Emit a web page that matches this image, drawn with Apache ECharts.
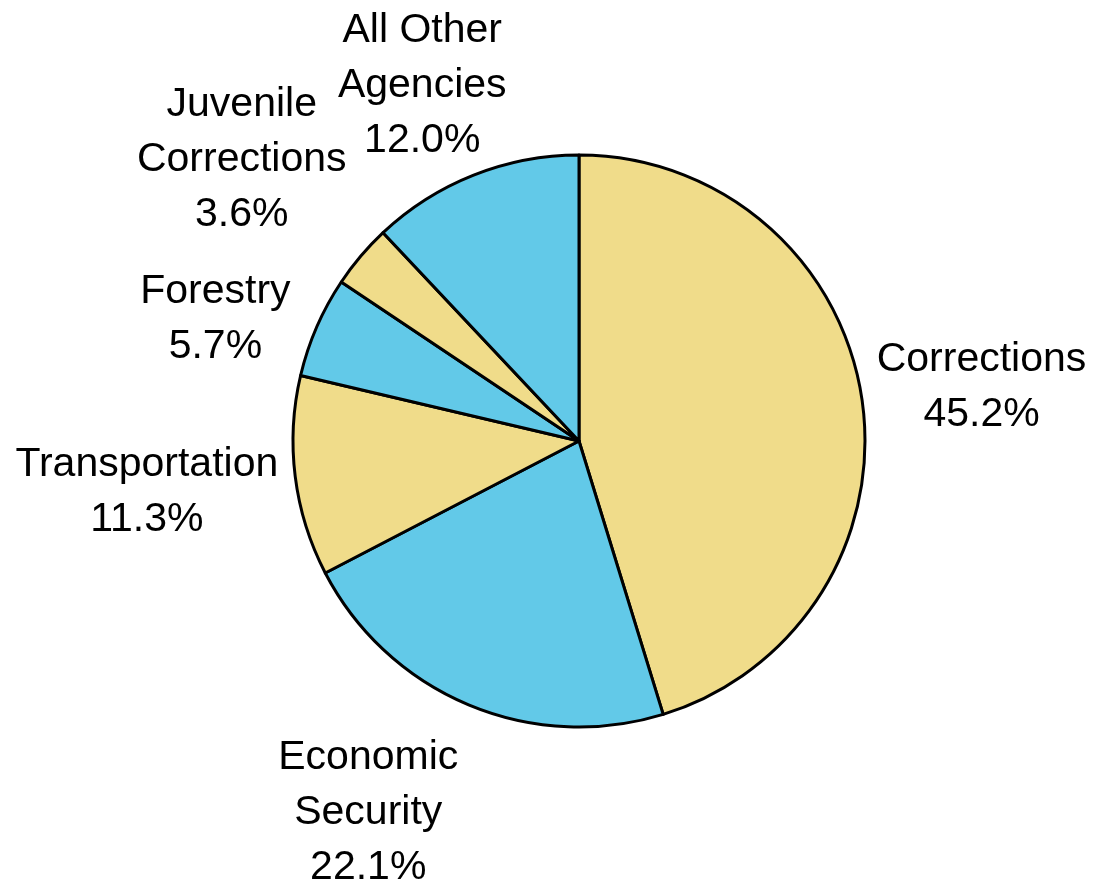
<!DOCTYPE html>
<html>
<head>
<meta charset="utf-8">
<style>
  html, body { margin: 0; padding: 0; background: #ffffff; }
  #chart { width: 1095px; height: 886px; }
</style>
<script src="https://cdn.jsdelivr.net/npm/echarts@6/dist/echarts.min.js"></script>
</head>
<body>
<div id="chart"></div>
<script>
// Share of spending by agency (percent), clockwise from 12 o'clock
const categories = [
  'Corrections',
  'Economic\nSecurity',
  'Transportation',
  'Forestry',
  'Juvenile\nCorrections',
  'All Other\nAgencies'
];
const shares = [45.2, 22.1, 11.3, 5.7, 3.6, 12.0];
const sliceColors = ['#f0dc8a', '#62c9e8', '#f0dc8a', '#62c9e8', '#f0dc8a', '#62c9e8'];

// Pie geometry (pixels)
const CX = 579, CY = 441, R = 286;
const LABEL_GAP = 10;
// Hand-tuned label shifts [dx, dy] applied after radial placement, per slice
const labelShift = [[5, 6], [-62, 16], [-7, -2], [-17, 29], [-14, -7], [-15, 2]];

const total = shares.reduce((a, b) => a + b, 0);
// Mid-angle of each slice, measured clockwise from the top
const midAngles = [];
{
  let acc = 0;
  shares.forEach(v => {
    midAngles.push(((acc + v / 2) / total) * Math.PI * 2);
    acc += v;
  });
}

const chart = echarts.init(document.getElementById('chart'));
chart.setOption({
  backgroundColor: '#ffffff',
  animation: false,
  series: [{
    type: 'pie',
    center: [CX, CY],
    radius: R,
    startAngle: 90,
    clockwise: true,
    avoidLabelOverlap: false,
    data: categories.map((name, i) => ({
      name: name,
      value: shares[i],
      itemStyle: { color: sliceColors[i] }
    })),
    itemStyle: { borderColor: '#000000', borderWidth: 3 },
    label: {
      show: true,
      position: 'outside',
      formatter: p => p.name + '\n' + shares[p.dataIndex].toFixed(1) + '%',
      fontFamily: '"Liberation Sans", Arial, sans-serif',
      fontSize: 41,
      lineHeight: 55,
      color: '#000000',
      align: 'center'
    },
    labelLine: { show: false },
    emphasis: { disabled: true },
    // Push each label box out along its slice's mid-angle until it clears the rim
    labelLayout: function (params) {
      const i = params.dataIndex;
      const a = midAngles[i];
      const dx = Math.sin(a), dy = -Math.cos(a);
      const w = params.labelRect.width / 2;
      const h = params.labelRect.height / 2;
      const toEdge = Math.min(
        Math.abs(dx) > 1e-6 ? w / Math.abs(dx) : Infinity,
        Math.abs(dy) > 1e-6 ? h / Math.abs(dy) : Infinity
      );
      const d = R + LABEL_GAP + toEdge;
      return {
        x: CX + dx * d + labelShift[i][0],
        y: CY + dy * d + labelShift[i][1],
        align: 'center',
        verticalAlign: 'middle'
      };
    }
  }]
});
</script>
</body>
</html>
